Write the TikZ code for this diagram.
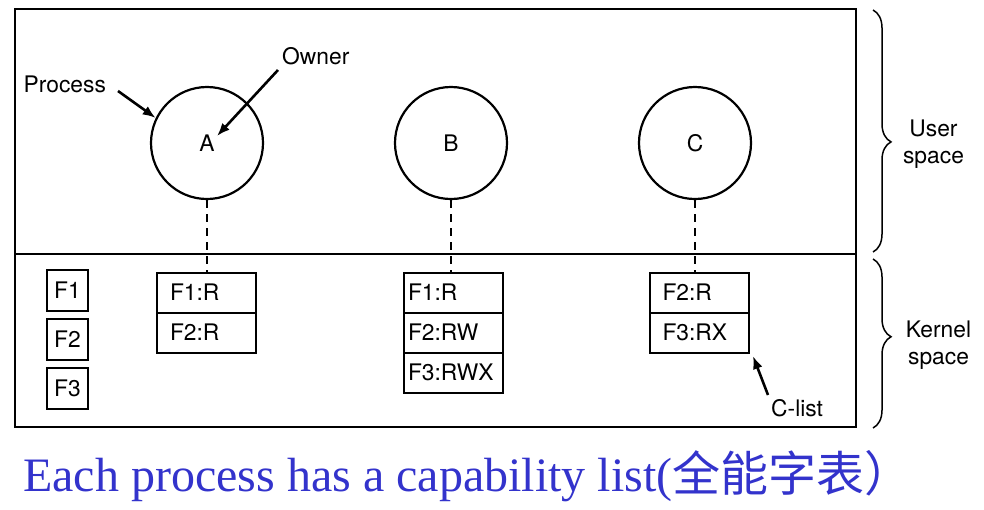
\documentclass[tikz,border=0pt]{standalone}
\usepackage{fontspec}
\setmainfont{TeX Gyre Heros}
\newfontfamily\capfont{Liberation Serif}
\newfontfamily\cjkfont{Noto Sans CJK SC}
\usetikzlibrary{arrows.meta,decorations.pathreplacing,calc}
\definecolor{capblue}{RGB}{51,51,204}
\begin{document}
\begin{tikzpicture}[x=1pt,y=-1pt,
  txt/.style={font=\fontsize{22.8pt}{27pt}\selectfont},
  lbl/.style={txt, inner sep=0pt},
  proc/.style={draw, circle, line width=2.2pt, minimum size=112pt, inner sep=0pt, txt},
  fbox/.style={draw, line width=2pt, minimum width=41pt, minimum height=41pt, inner sep=0pt, txt},
  crow/.style={draw, line width=2pt, minimum width=99pt, minimum height=40pt, inner ysep=0pt, align=left, txt},
  crowA/.style={crow, inner xsep=13pt, text width=73pt},
  crowB/.style={crow, inner xsep=4.5pt, text width=90pt},
  crowC/.style={crow, inner xsep=12.5pt, text width=74pt},
  ptr/.style={line width=2.6pt, -{Latex[length=13pt,width=10pt]}},
  link/.style={line width=2pt, dash pattern=on 8pt off 6pt},
  region/.style={draw, line width=2.5pt},
  brc/.style={decorate, line width=1.5pt}
]
\useasboundingbox (0,0) rectangle (984,509);

% outer box and separator
\draw[region] (15,9) rectangle (856,427);
\coordinate (sepL) at (15,254);
\coordinate (sepR) at (856,254);
\draw[line width=2pt] (sepL) -- (sepR);

% processes
\node[proc] (A) at (207,143) {A};
\node[proc] (B) at (451,143) {B};
\node[proc] (C) at (695,143) {C};

% files
\node[fbox] (f1) at (67.5,290.5) {F1};
\node[fbox] (f2) at (67.5,339.5) {F2};
\node[fbox] (f3) at (67.5,388.5) {F3};

% C-lists
\node[crowA] (a1) at (206.5,292.5) {F1:R};
\node[crowA] (a2) at (206.5,332.5) {F2:R};
\node[crowB] (b1) at (453,292.5) {F1:R};
\node[crowB] (b2) at (453,332.5) {F2:RW};
\node[crowB] (b3) at (453,372.5) {F3:RWX};
\node[crowC] (c1) at (699.5,292.5) {F2:R};
\node[crowC] (c2) at (699.5,332.5) {F3:RX};

% dashed links
\draw[link] (A.south) -- (A.south |- a1.north);
\draw[link] (B.south) -- (B.south |- b1.north);
\draw[link] (C.south) -- (C.south |- c1.north);

% labels and pointers
\node[lbl, anchor=base west] (plab) at (23.5,92.7) {Process};
\node[lbl, anchor=base west] (olab) at (282,64) {Owner};
\node[lbl, anchor=base west] (clab) at (771,416) {C-list};
\coordinate (ps) at (118,91);
\coordinate (os) at (278,70);
\coordinate (ot) at (217,136);
\coordinate (cs) at (768,395);
\coordinate (ct) at (753,356);
\draw[ptr] (ps) -- (A.154);
\draw[ptr] (os) -- (ot);
\draw[ptr] (cs) -- (ct);

% braces
\coordinate (ub1) at (873,10);
\coordinate (ub2) at (873,252);
\coordinate (kb1) at (873,259);
\coordinate (kb2) at (873,428);
\draw[brc, decoration={brace, amplitude=18pt, aspect=0.545}] (ub1) -- (ub2);
\draw[brc, decoration={brace, amplitude=18pt, aspect=0.46}] (kb1) -- (kb2);
\node[lbl, align=center] (ulab) at (933.5,144) {User\\space};
\node[lbl, align=center] (klab) at (938.5,345) {Kernel\\space};

% caption
\node[anchor=base west, inner sep=0pt, text=capblue] (cap) at (23,491)
  {{\capfont\fontsize{48pt}{48pt}\selectfont Each process has a capability list(}{\cjkfont\fontsize{48pt}{48pt}\selectfont 全能字表）}};
\end{tikzpicture}
\end{document}
